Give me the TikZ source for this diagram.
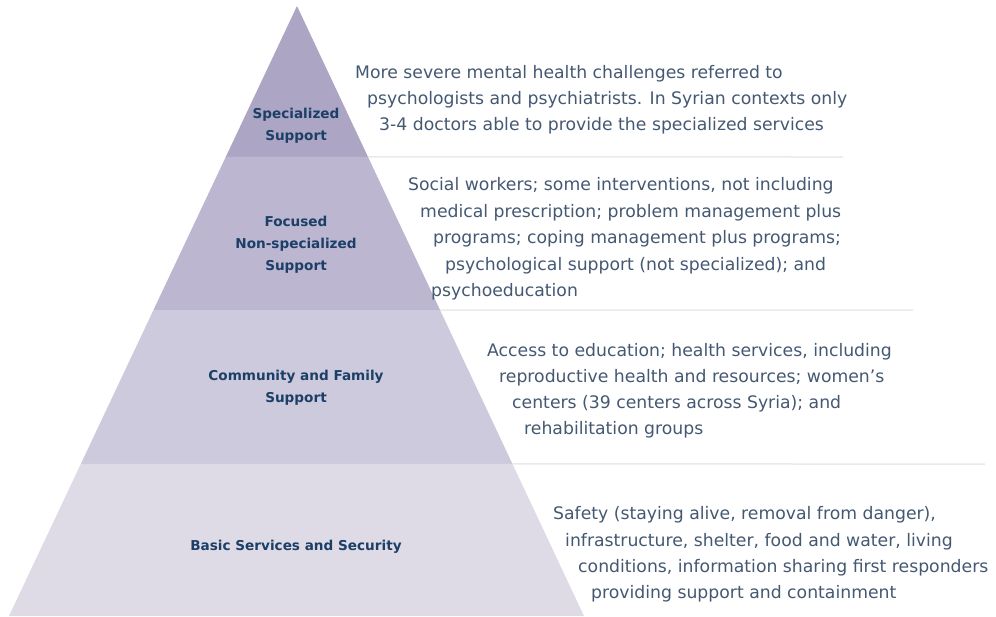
\documentclass[tikz,border=0pt]{standalone}
\usepackage{fontspec}
\setmainfont{DejaVu Sans}
\usetikzlibrary{calc}
\definecolor{bandA}{RGB}{172,166,196}
\definecolor{bandB}{RGB}{188,182,208}
\definecolor{bandC}{RGB}{206,202,221}
\definecolor{bandD}{RGB}{222,219,231}
\definecolor{labelc}{RGB}{27,63,102}
\definecolor{descc}{RGB}{68,88,114}
\definecolor{rulec}{RGB}{234,234,237}
\begin{document}
\begin{tikzpicture}[x=1pt,y=-1pt,
  lab/.style={font=\fontsize{13.6}{22}\selectfont\bfseries, text=labelc, align=center, inner sep=0pt},
  desc/.style={font=\fontsize{17.25}{26}\selectfont, text=descc, anchor=base west, inner sep=0pt},
  rulel/.style={draw=rulec, line width=1.5pt}]
\useasboundingbox (0,0) rectangle (996,616);
\coordinate (A) at (297,6);
\coordinate (L) at (9,616);
\coordinate (R) at (584,616);
\coordinate (L1) at ($(A)!0.2475!(L)$);
\coordinate (R1) at ($(A)!0.2475!(R)$);
\coordinate (L2) at ($(A)!0.4984!(L)$);
\coordinate (R2) at ($(A)!0.4984!(R)$);
\coordinate (L3) at ($(A)!0.7508!(L)$);
\coordinate (R3) at ($(A)!0.7508!(R)$);
\coordinate (E1) at (843,157);
\coordinate (E2) at (913,310);
\coordinate (E3) at (985,464);
% bands
\fill[bandA] (A) -- (R1) -- (L1) -- cycle;
\fill[bandB] (L1) -- (R1) -- (R2) -- (L2) -- cycle;
\fill[bandC] (L2) -- (R2) -- (R3) -- (L3) -- cycle;
\fill[bandD] (L3) -- (R3) -- (R) -- (L) -- cycle;
% rules
\draw[rulel] (R1) -- (E1);
\draw[rulel] (R2) -- (E2);
\draw[rulel] (R3) -- (E3);
% labels
\node[lab] (l1) at (296,126) {Specialized\\Support};
\node[lab] (l2) at (296,245) {Focused\\Non-specialized\\Support};
\node[lab] (l3) at (296,388) {Community and Family\\Support};
\node[lab] (l4) at (296,547) {Basic Services and Security};
% descriptions
\node[desc] (a1) at (355,78) {More severe mental health challenges referred to};
\node[desc] (a2) at (367,104) {psychologists and psychiatrists. In Syrian contexts only};
\node[desc] (a3) at (379,130) {3-4 doctors able to provide the specialized services};
\node[desc] (b1) at (408,190) {Social workers; some interventions, not including};
\node[desc] (b2) at (420,217) {medical prescription; problem management plus};
\node[desc] (b3) at (433,243) {programs; coping management plus programs;};
\node[desc] (b4) at (445,270) {psychological support (not specialized); and};
\node[desc] (b5) at (431,296) {psychoeducation};
\node[desc] (c1) at (487,356) {Access to education; health services, including};
\node[desc] (c2) at (499,382) {reproductive health and resources; women’s};
\node[desc] (c3) at (512,408) {centers (39 centers across Syria); and};
\node[desc] (c4) at (524,434) {rehabilitation groups};
\node[desc] (d1) at (553,519) {Safety (staying alive, removal from danger),};
\node[desc] (d2) at (565,546) {infrastructure, shelter, food and water, living};
\node[desc] (d3) at (578,572) {conditions, information sharing first responders};
\node[desc] (d4) at (591,598) {providing support and containment};
\end{tikzpicture}
\end{document}
